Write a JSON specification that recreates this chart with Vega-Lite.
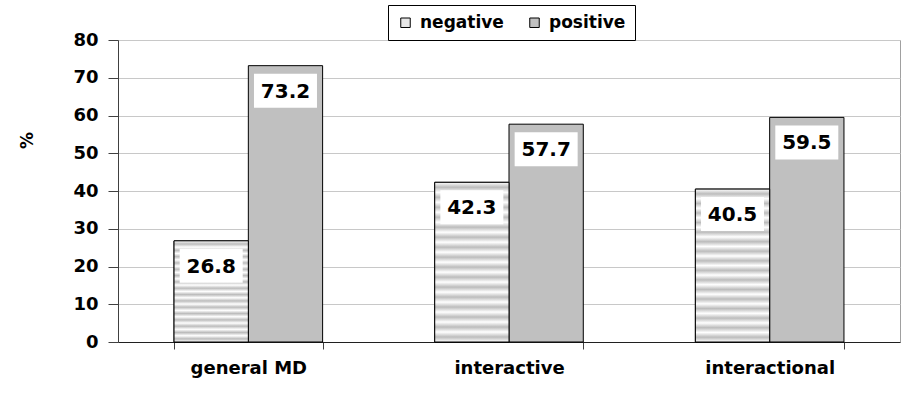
{
  "$schema": "https://vega.github.io/schema/vega-lite/v6.json",
  "width": 782,
  "height": 302,
  "autosize": "none",
  "padding": {"left": 118, "top": 40, "right": 13, "bottom": 63},
  "background": "white",
  "config": {
    "font": "DejaVu Sans",
    "view": {"stroke": "#a0a0a0", "strokeWidth": 1}
  },
  "data": {
    "values": [
      {"cat": "general MD", "sign": "negative", "value": 26.8},
      {"cat": "general MD", "sign": "positive", "value": 73.2},
      {"cat": "interactive", "sign": "negative", "value": 42.3},
      {"cat": "interactive", "sign": "positive", "value": 57.7},
      {"cat": "interactional", "sign": "negative", "value": 40.5},
      {"cat": "interactional", "sign": "positive", "value": 59.5}
    ]
  },
  "encoding": {
    "x": {
      "field": "cat", "type": "nominal", "sort": null,
      "scale": {"paddingInner": 0.43, "paddingOuter": 0.215},
      "axis": {
        "title": null, "labelAngle": 0, "grid": false,
        "tickBand": "extent", "tickSize": 7, "tickColor": "#404040",
        "domainColor": "#202020", "labelPadding": 10,
        "labelFont": "DejaVu Sans", "labelFontWeight": "bold",
        "labelFontSize": 18, "labelColor": "black"
      }
    },
    "xOffset": {
      "field": "sign", "type": "nominal",
      "scale": {"domain": ["negative", "positive"], "paddingInner": 0, "paddingOuter": 0}
    },
    "y": {
      "field": "value", "type": "quantitative",
      "scale": {"domain": [0, 80], "nice": false},
      "axis": {
        "title": "%", "titleFont": "DejaVu Sans", "titleFontWeight": "bold",
        "titleFontSize": 17, "titleColor": "black", "titleX": -82, "titleY": 100,
        "values": [0, 10, 20, 30, 40, 50, 60, 70, 80],
        "tickSize": 10, "tickColor": "#404040", "domainColor": "#404040",
        "labelPadding": 10, "labelFont": "DejaVu Sans", "labelFontWeight": "bold",
        "labelFontSize": 18, "labelColor": "black",
        "grid": true, "gridColor": "#c8c8c8"
      }
    }
  },
  "layer": [
    {
      "mark": {"type": "bar", "stroke": "black", "strokeWidth": 1},
      "encoding": {
        "color": {
          "field": "sign", "type": "nominal",
          "scale": {"domain": ["negative", "positive"], "range": ["#e6e6e6", "#c0c0c0"]},
          "legend": {
            "title": null, "orient": "none", "legendX": 270, "legendY": -35,
            "direction": "horizontal", "strokeColor": "black", "fillColor": "white",
            "padding": 9, "columnPadding": 22, "symbolType": "square", "symbolSize": 90,
            "symbolStrokeColor": "black", "symbolStrokeWidth": 1,
            "labelFont": "DejaVu Sans", "labelFontWeight": "bold",
            "labelFontSize": 17, "labelColor": "black", "labelOffset": 6
          }
        }
      }
    },
    {
      "transform": [{"filter": "datum.sign === 'negative'"}],
      "mark": {
        "type": "bar", "stroke": "black", "strokeWidth": 1,
        "fill": {
          "gradient": "linear", "x1": 0, "y1": 0, "x2": 0, "y2": 1,
          "stops": [
            {"offset": 0, "color": "#ffffff"}, {"offset": 0.03125, "color": "#bcbcbc"},
            {"offset": 0.0625, "color": "#ffffff"}, {"offset": 0.09375, "color": "#bcbcbc"},
            {"offset": 0.125, "color": "#ffffff"}, {"offset": 0.15625, "color": "#bcbcbc"},
            {"offset": 0.1875, "color": "#ffffff"}, {"offset": 0.21875, "color": "#bcbcbc"},
            {"offset": 0.25, "color": "#ffffff"}, {"offset": 0.28125, "color": "#bcbcbc"},
            {"offset": 0.3125, "color": "#ffffff"}, {"offset": 0.34375, "color": "#bcbcbc"},
            {"offset": 0.375, "color": "#ffffff"}, {"offset": 0.40625, "color": "#bcbcbc"},
            {"offset": 0.4375, "color": "#ffffff"}, {"offset": 0.46875, "color": "#bcbcbc"},
            {"offset": 0.5, "color": "#ffffff"}, {"offset": 0.53125, "color": "#bcbcbc"},
            {"offset": 0.5625, "color": "#ffffff"}, {"offset": 0.59375, "color": "#bcbcbc"},
            {"offset": 0.625, "color": "#ffffff"}, {"offset": 0.65625, "color": "#bcbcbc"},
            {"offset": 0.6875, "color": "#ffffff"}, {"offset": 0.71875, "color": "#bcbcbc"},
            {"offset": 0.75, "color": "#ffffff"}, {"offset": 0.78125, "color": "#bcbcbc"},
            {"offset": 0.8125, "color": "#ffffff"}, {"offset": 0.84375, "color": "#bcbcbc"},
            {"offset": 0.875, "color": "#ffffff"}, {"offset": 0.90625, "color": "#bcbcbc"},
            {"offset": 0.9375, "color": "#ffffff"}, {"offset": 0.96875, "color": "#bcbcbc"},
            {"offset": 1, "color": "#ffffff"}
          ]
        }
      }
    },
    {
      "mark": {
        "type": "point", "shape": "M-1,-0.54H1V0.54H-1Z", "size": 3969,
        "filled": true, "fill": "white", "opacity": 1, "strokeWidth": 0, "yOffset": 25
      }
    },
    {
      "mark": {
        "type": "text", "font": "DejaVu Sans", "fontWeight": "bold",
        "fontSize": 20, "color": "black", "baseline": "middle", "align": "center", "yOffset": 26
      },
      "encoding": {"text": {"field": "value", "type": "quantitative", "format": ".1f"}}
    }
  ]
}
